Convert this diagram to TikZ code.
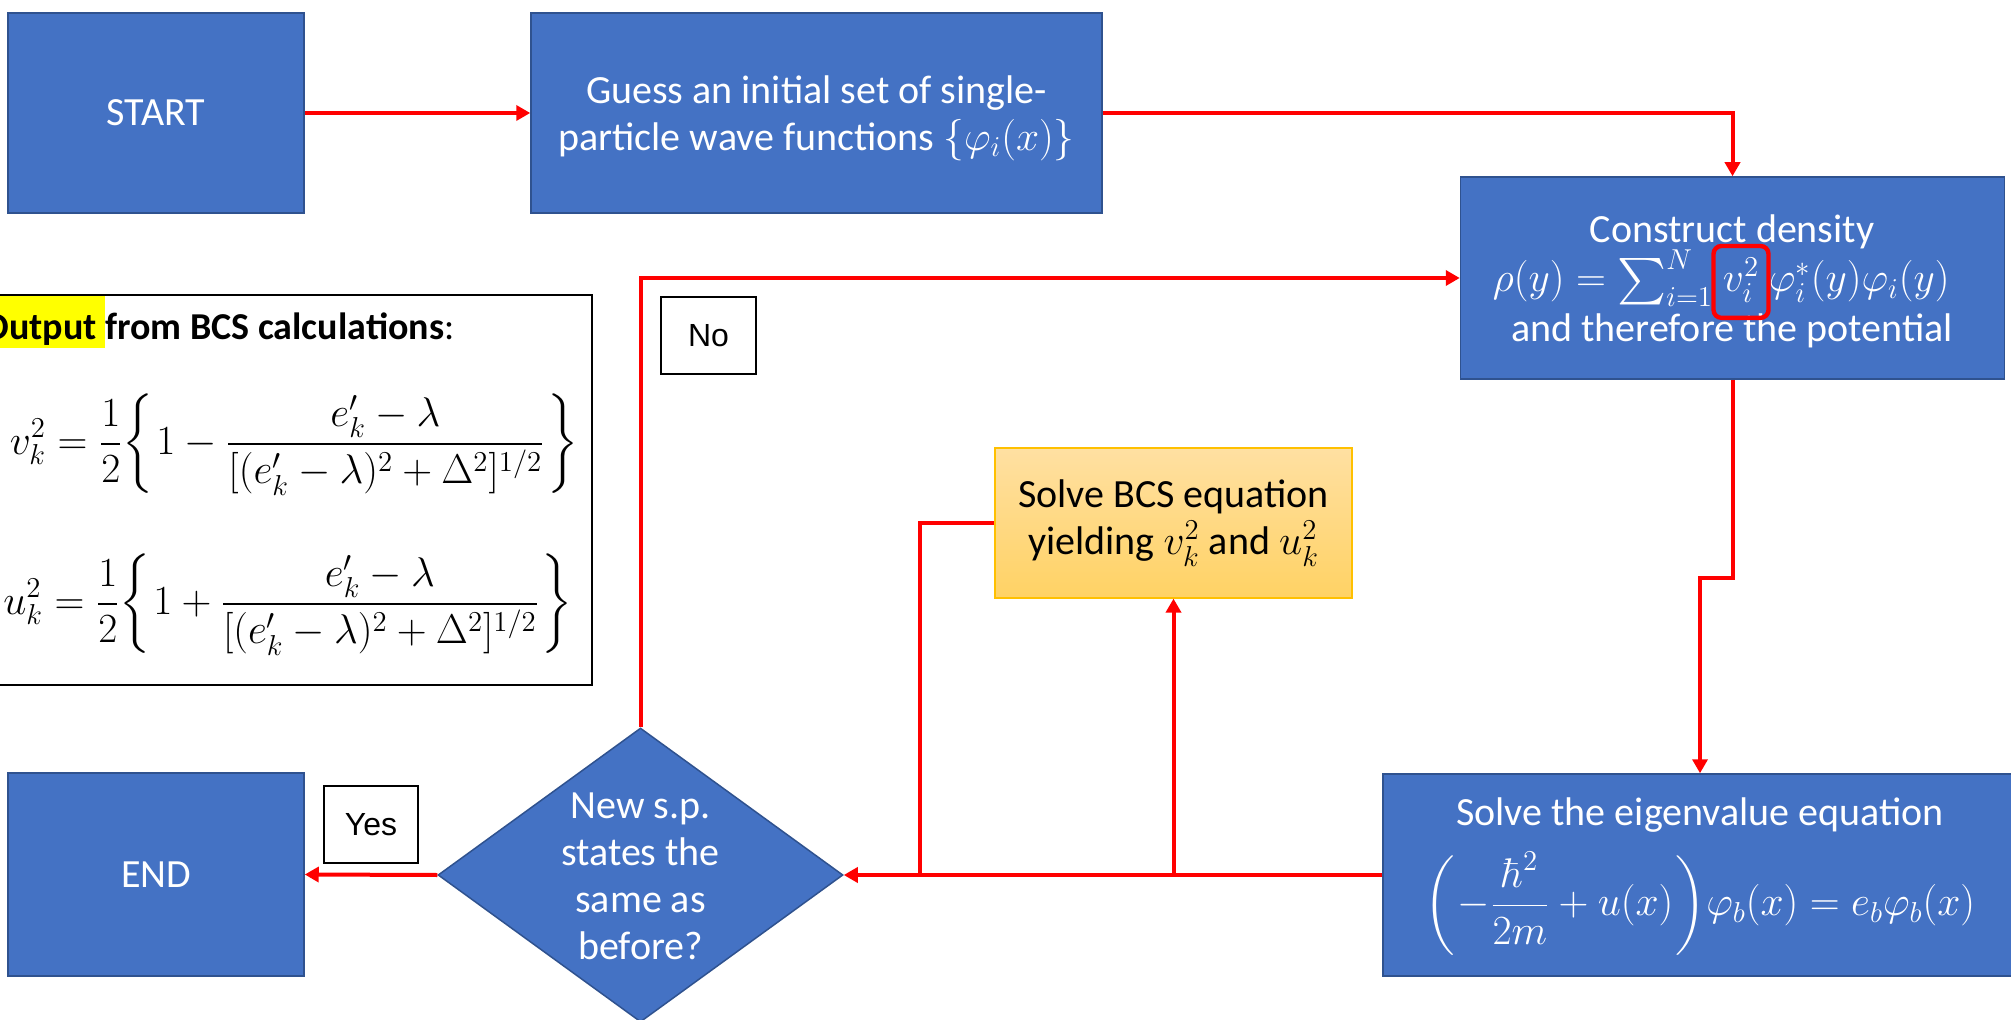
\documentclass[tikz,border=0pt]{standalone}
\usepackage{amsmath}
\usepackage{graphicx}
\usepackage[no-math]{fontspec}
\setmainfont{Carlito}
\newfontfamily\tagfont{Liberation Sans}
\usetikzlibrary{arrows.meta,shapes.geometric,calc}

\definecolor{boxblue}{HTML}{4472C4}
\definecolor{boxedge}{HTML}{2F528F}
\definecolor{flowred}{HTML}{FF0000}
\definecolor{goldtop}{HTML}{FFE0A2}
\definecolor{goldbot}{HTML}{FFD264}
\definecolor{goldedge}{HTML}{FFC000}
\definecolor{marker}{HTML}{FFFF00}

\newcommand\mainsize{\fontsize{20}{23.5}\selectfont}
\newcommand\bigsum{\mathop{\vcenter{\hbox{\scalebox{1.12}{$\textstyle\sum$}}}}\nolimits}
% delimiters of a fixed height
\newcommand\fixopen[2]{\mathopen{\hbox{$\left#2\vcenter to #1{}\right.$}}}
\newcommand\fixclose[2]{\mathclose{\hbox{$\left.\vcenter to #1{}\right#2$}}}

\tikzset{
  bluebox/.style={draw=boxedge, line width=0.75pt, fill=boxblue, text=white,
    font=\mainsize, align=center, inner sep=0pt},
  decision/.style={bluebox, diamond},
  goldbox/.style={draw=goldedge, line width=0.6pt, top color=goldtop,
    bottom color=goldbot, text=black, font=\mainsize, align=center, inner sep=0pt},
  whitetext/.style={text=white, font=\mainsize, inner sep=0pt, align=center},
  tagbox/.style={draw=black, line width=0.75pt, fill=white,
    font=\tagfont\fontsize{16}{19}\selectfont, inner sep=0pt},
  bcsformula/.style={inner sep=0pt, font=\fontsize{20}{20}\selectfont},
  link/.style={draw=flowred, line width=2pt},
  flow/.style={link, -{Triangle[length=7pt,width=7.5pt]}}
}

\begin{document}
\begin{tikzpicture}[x=0.5pt, y=-0.5pt]
\useasboundingbox (0,0) rectangle (2011,1020);
\clip (0,0) rectangle (2011,1020);

% summary of the BCS step
\draw[black, line width=0.75pt, fill=white] (-5,295) rectangle (592,685);
\node[anchor=base west, inner sep=0pt, font=\fontsize{19}{23}\selectfont] (outhead) at (-17,340)
  {\setlength\fboxsep{0pt}\colorbox{marker}{\rule[-4pt]{0pt}{26pt}\textbf{Output }}\textbf{from BCS calculations}:};
\node[bcsformula] (eqv) at (294,445)
  {$\displaystyle v_k^2=\frac{1}{2}\fixopen{42pt}\{1-\frac{e_k^{\prime}-\lambda}{[(e_k^{\prime}-\lambda)^2+\Delta^2]^{1/2}}\fixclose{42pt}\}$};
\node[bcsformula] (equ) at (288,605)
  {$\displaystyle u_k^2=\frac{1}{2}\fixopen{42pt}\{1+\frac{e_k^{\prime}-\lambda}{[(e_k^{\prime}-\lambda)^2+\Delta^2]^{1/2}}\fixclose{42pt}\}$};

% process boxes
\node[bluebox, minimum width=148pt, minimum height=100pt] (start) at (156,113) {START};
\node[bluebox, minimum width=285.5pt, minimum height=100pt] (guess) at (816.5,113) {};
\node[whitetext] (guessT) at (816.5,118)
  {Guess an initial set of single-\\particle wave functions $\{\varphi_i(x)\}$};

\node[bluebox, minimum width=272pt, minimum height=101pt] (dens) at (1732.5,278) {};
\node[whitetext] (densA) at (1732,232) {Construct density};
\node[whitetext, anchor=base, inner xsep=4.5pt, inner ysep=0pt] (vsq) at (1741,292) {$v_i^2$};
\node[whitetext, anchor=base east] (densL) at (vsq.base west) {$\rho(y)=\bigsum_{i=1}^{N}$};
\node[whitetext, anchor=base west] (densR) at (vsq.base east) {$\varphi_i^{*}(y)\varphi_i(y)$};
\node[whitetext] (densC) at (1732,331) {and therefore the potential};
\draw[flowred, line width=2.2pt, rounded corners=4pt]
  ($(vsq.north west)+(0,-12)$) rectangle ($(vsq.south east)+(0,15)$);

\node[bluebox, minimum width=317pt, minimum height=101pt] (eig) at (1700,875) {};
\node[whitetext] (eigA) at (1700,815) {Solve the eigenvalue equation};
\node[whitetext, font=\fontsize{21}{28}\selectfont] (eigB) at (1700,904)
  {$\displaystyle\fixopen{51pt}(-\frac{\hbar^2}{2m}+u(x)\fixclose{51pt})\varphi_b(x)=e_b\varphi_b(x)$};

\node[goldbox, minimum width=178.5pt, minimum height=75pt] (bcs) at (1173.5,523)
  {Solve BCS equation\\yielding $v_k^2$ and $u_k^2$};

\node[decision, minimum width=202.5pt, minimum height=147pt] (dec) at (640.5,875) {};
\node[whitetext] (decT) at (640.5,876) {New s.p.\\states the\\same as\\before?};

\node[bluebox, minimum width=148pt, minimum height=101.5pt] (finish) at (156,874.5) {END};

\node[tagbox, minimum width=47.5pt, minimum height=38.5pt] (no) at (708.5,335.5) {No};
\node[tagbox, minimum width=47pt, minimum height=38.5pt] (yes) at (371,824.5) {Yes};

% connectors
\coordinate (tapA) at (920,875);
\draw[flow] (start) -- (guess);
\draw[flow] (guess.east) -| (dens.north);
\draw[flow] (dens.south) -- ++(0,198) -| (eig.north);
\draw[flow] (eig.west) -- (dec.east);
\draw[flow] (bcs.south |- eig.west) -- (bcs.south);
\draw[link] (bcs.west) -| (tapA);
\draw[flow] (dec.north) |- (dens.west);
\draw[flow] (dec.west) -- (finish.east);
\end{tikzpicture}
\end{document}
